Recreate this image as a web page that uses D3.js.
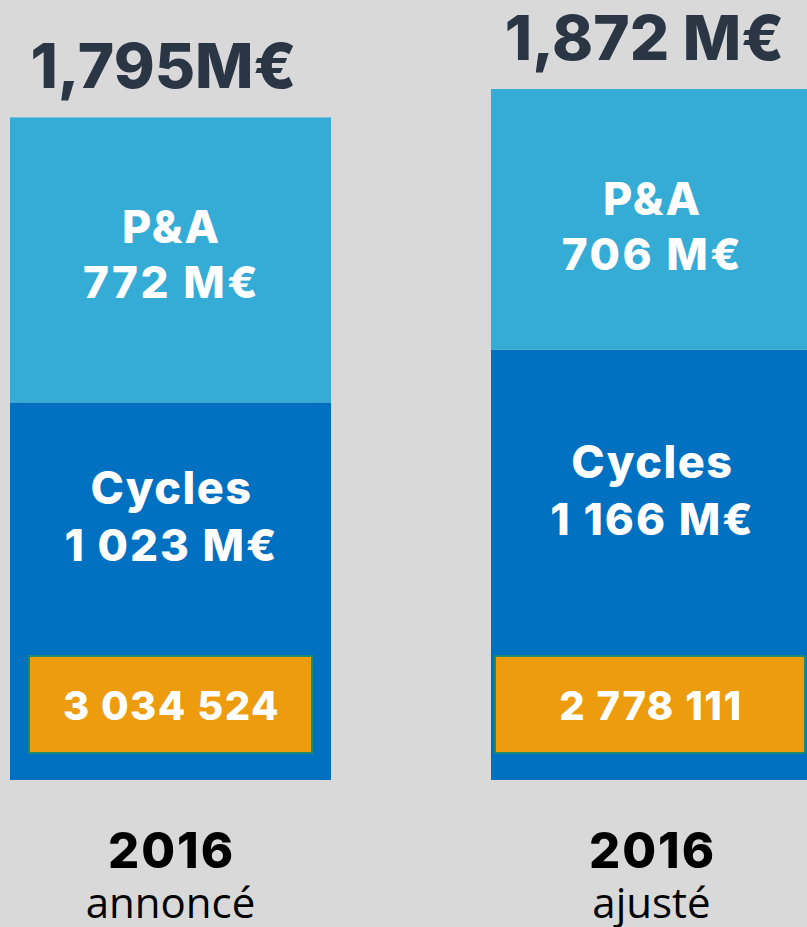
<!DOCTYPE html>
<html>
<head>
<meta charset="utf-8">
<script src="https://cdn.jsdelivr.net/npm/d3@7"></script>
<style>
  html, body { margin: 0; padding: 0; background: #d9d9d9; }
  svg { display: block; }
</style>
</head>
<body>
<svg id="chart"></svg>
<script>
// data
var years = ["2016", "2016"];
var subtitles = ["annoncé", "ajusté"];
var totals = [1795, 1872];
var totalLabels = ["1,795M€", "1,872 M€"];
var cycles = [1023, 1166];
var cyclesLabels = ["1 023 M€", "1 166 M€"];
var pa = [772, 706];
var paLabels = ["772 M€", "706 M€"];
var counts = ["3 034 524", "2 778 111"];

var width = 807, height = 927;
var baseY = 780;
// inset of the orange box inside each bar (left, right)
var boxInset = [[19, 19], [4, 7]];

var svg = d3.select("#chart")
  .attr("width", width)
  .attr("height", height);

svg.append("rect")
  .attr("width", width)
  .attr("height", height)
  .attr("fill", "#d9d9d9");

var x = d3.scaleBand()
  .domain(d3.range(years.length))
  .range([10, 812])
  .paddingInner(0.3326)
  .paddingOuter(0);

// 0 at the bottom of the bars
var y = d3.scaleLinear()
  .domain([0, 1872])
  .range([baseY, baseY - 691]);

var bars = svg.selectAll("g.bar")
  .data(d3.range(years.length))
  .enter().append("g")
  .attr("class", "bar");

function cx(i) { return x(i) + x.bandwidth() / 2; }
function boxW(i) { return x.bandwidth() - boxInset[i][0] - boxInset[i][1]; }

// cycles (bottom)
bars.append("rect")
  .attr("x", function(i) { return x(i); })
  .attr("y", function(i) { return y(cycles[i]); })
  .attr("width", x.bandwidth())
  .attr("height", function(i) { return y(0) - y(cycles[i]); })
  .attr("fill", "#0070c0");

// P&A (top)
bars.append("rect")
  .attr("x", function(i) { return x(i); })
  .attr("y", function(i) { return y(cycles[i] + pa[i]); })
  .attr("width", x.bandwidth())
  .attr("height", function(i) { return y(cycles[i]) - y(cycles[i] + pa[i]); })
  .attr("fill", "#35acd6");

var boldFont = "Inter, 'Open Sans', sans-serif";

function whiteLabel(sel, size, spacing) {
  sel.attr("text-anchor", "middle")
    .attr("fill", "#fff")
    .style("font-family", boldFont)
    .style("font-weight", 800)
    .style("font-size", size + "px")
    .style("letter-spacing", spacing + "px");
}

// P&A labels, hanging from the top of the segment
bars.append("text")
  .attr("x", function(i) { return cx(i) + 1; })
  .attr("y", function(i) { return y(cycles[i] + pa[i]) + 126; })
  .call(whiteLabel, 45, 2)
  .text("P&A");

bars.append("text")
  .attr("x", function(i) { return cx(i) + 1; })
  .attr("y", function(i) { return y(cycles[i] + pa[i]) + 181; })
  .call(whiteLabel, 44, 2.5)
  .text(function(i) { return paLabels[i]; });

// cycles labels
bars.append("text")
  .attr("x", function(i) { return cx(i) + 1; })
  .attr("y", function(i) { return (y(0) + y(cycles[i])) / 2 - 87; })
  .call(whiteLabel, 45, 1.5)
  .text("Cycles");

bars.append("text")
  .attr("x", function(i) { return cx(i) + 1; })
  .attr("y", function(i) { return (y(0) + y(cycles[i])) / 2 - 30; })
  .call(whiteLabel, 44, 2)
  .text(function(i) { return cyclesLabels[i]; });

// orange count boxes
bars.append("rect")
  .attr("x", function(i) { return x(i) + boxInset[i][0]; })
  .attr("y", baseY - 124)
  .attr("width", boxW)
  .attr("height", 97)
  .attr("fill", "#ec9c0d")
  .attr("stroke", "#1f8a70")
  .attr("stroke-width", 2);

bars.append("text")
  .attr("x", function(i) { return x(i) + boxInset[i][0] + boxW(i) / 2 + 1; })
  .attr("y", baseY - 60)
  .call(whiteLabel, 40, 1.5)
  .text(function(i) { return counts[i]; });

// totals above bars
bars.append("text")
  .attr("x", function(i) { return cx(i) - 7; })
  .attr("y", function(i) { return y(totals[i]) - 29; })
  .attr("text-anchor", "middle")
  .attr("fill", "#2b3645")
  .style("font-family", boldFont)
  .style("font-weight", 800)
  .style("font-size", "62px")
  .text(function(i) { return totalLabels[i]; });

// year + subtitle
bars.append("text")
  .attr("x", function(i) { return cx(i) + 1; })
  .attr("y", 868)
  .attr("text-anchor", "middle")
  .attr("fill", "#000")
  .style("font-family", boldFont)
  .style("font-weight", 800)
  .style("font-size", "49px")
  .style("letter-spacing", "2px")
  .text(function(i) { return years[i]; });

bars.append("text")
  .attr("x", function(i) { return cx(i); })
  .attr("y", 918)
  .attr("text-anchor", "middle")
  .attr("fill", "#000")
  .style("font-family", "'Open Sans', sans-serif")
  .style("font-size", "42px")
  .text(function(i) { return subtitles[i]; });
</script>
</body>
</html>
